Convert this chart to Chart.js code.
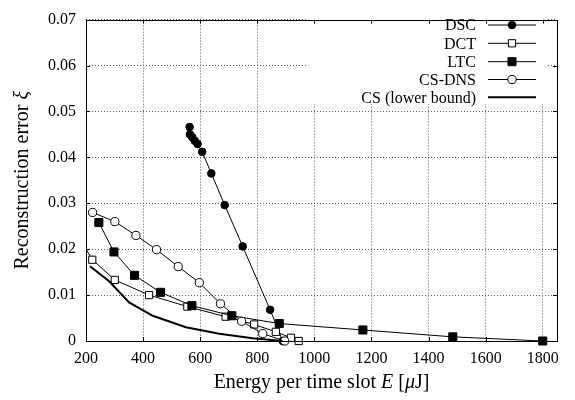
<!DOCTYPE html>
<html>
<head>
<meta charset="utf-8">
<script src="https://cdn.jsdelivr.net/npm/chart.js@4/dist/chart.umd.min.js"></script>
<style>
  html, body { margin: 0; padding: 0; background: #fff; }
  #wrap { width: 575px; height: 400px; }
</style>
</head>
<body>
<div id="wrap"><canvas id="chart" width="575" height="400"></canvas></div>
<script>
// --- datos ---
const names = ['DSC', 'DCT', 'LTC', 'CS-DNS', 'CS (lower bound)'];

const dscE  = [563, 564, 572, 581, 591, 607, 639, 686, 749, 845, 889];
const dscXi = [0.0466, 0.0450, 0.0444, 0.0436, 0.0429, 0.0412, 0.0365, 0.0296, 0.0206, 0.0068, 0.0];

const dctE  = [185, 222, 301, 421, 555, 689, 789, 865, 918, 945];
const dctXi = [0.0216, 0.0177, 0.0133, 0.0100, 0.0075, 0.0053, 0.0036, 0.0020, 0.0007, 0.0];

const ltcE  = [245, 298, 370, 461, 571, 711, 877, 1170, 1485, 1800];
const ltcXi = [0.0258, 0.0194, 0.0143, 0.0106, 0.0077, 0.0055, 0.0038, 0.0024, 0.0009, 0.0];

const dnsE  = [223, 301, 375, 447, 523, 597, 671, 745, 819, 896];
const dnsXi = [0.0280, 0.0260, 0.0230, 0.0199, 0.0162, 0.0127, 0.0081, 0.0043, 0.0016, 0.0];

const csE   = [214, 281, 351, 434, 550, 667, 784, 889];
const csXi  = [0.0163, 0.0130, 0.0084, 0.0055, 0.0030, 0.0016, 0.0006, 0.0];

const xTicks = [200, 400, 600, 800, 1000, 1200, 1400, 1600, 1800];
const yTicks = [0, 0.01, 0.02, 0.03, 0.04, 0.05, 0.06, 0.07];

const FONT = '"Liberation Serif", "DejaVu Serif", serif';
Chart.defaults.font.family = FONT;
Chart.defaults.color = '#000';

function pts(xs, ys) {
    return xs.map((x, i) => ({ x: x, y: ys[i] }));
}

function serie(label, data, style) {
    return Object.assign({
        label: label,
        data: data,
        borderColor: '#000',
        borderWidth: 1,
        tension: 0,
        pointBorderColor: '#000',
        pointBorderWidth: 1,
        pointHoverRadius: 0,
        clip: { left: 0, top: 6, right: 8, bottom: 8 }
    }, style);
}

// leyenda a la derecha, texto alineado a la derecha (estilo gnuplot)
const legendPlugin = {
    id: 'gpLegend',
    afterDatasetsDraw(chart) {
        const ctx = chart.ctx;
        ctx.save();
        ctx.fillStyle = '#fff';
        ctx.fillRect(306, 13, 241, 91);
        const rows = [25, 43.3, 61.7, 79.5, 97.3];
        ctx.font = '16px ' + FONT;
        ctx.textAlign = 'right';
        ctx.textBaseline = 'middle';
        chart.data.datasets.forEach((ds, i) => {
            const y = rows[i];
            ctx.fillStyle = '#000';
            ctx.fillText(ds.label, 476, y + 1);
            ctx.strokeStyle = '#000';
            ctx.lineWidth = ds.borderWidth;
            ctx.beginPath();
            ctx.moveTo(488, y);
            ctx.lineTo(536, y);
            ctx.stroke();
            if (ds.pointRadius > 0) {
                ctx.fillStyle = ds.pointBackgroundColor;
                ctx.lineWidth = 1;
                Chart.helpers.drawPoint(ctx, {
                    pointStyle: ds.pointStyle, radius: ds.pointRadius,
                    rotation: 0, borderWidth: 1
                }, 512, y);
            }
        });
        ctx.restore();
    }
};

// marco, marcas hacia dentro y títulos de ejes con cursiva
function drawRuns(ctx, runs, size) {
    let total = 0;
    runs.forEach(r => {
        ctx.font = (r[1] ? 'italic ' : '') + size + 'px ' + FONT;
        total += ctx.measureText(r[0]).width;
    });
    let x = -total / 2;
    runs.forEach(r => {
        ctx.font = (r[1] ? 'italic ' : '') + size + 'px ' + FONT;
        ctx.fillText(r[0], x, 0);
        x += ctx.measureText(r[0]).width;
    });
}

const framePlugin = {
    id: 'gpFrame',
    afterDraw(chart) {
        const ctx = chart.ctx;
        const a = chart.chartArea;
        const sx = chart.scales.x, sy = chart.scales.y;
        const t = 4;
        ctx.save();
        ctx.strokeStyle = '#000';
        ctx.lineWidth = 1;
        ctx.beginPath();
        xTicks.forEach(v => {
            const px = Math.round(sx.getPixelForValue(v)) + 0.5;
            ctx.moveTo(px, a.bottom); ctx.lineTo(px, a.bottom - t);
            ctx.moveTo(px, a.top); ctx.lineTo(px, a.top + t);
        });
        yTicks.forEach(v => {
            const py = Math.round(sy.getPixelForValue(v)) + 0.5;
            ctx.moveTo(a.left, py); ctx.lineTo(a.left + t, py);
            ctx.moveTo(a.right, py); ctx.lineTo(a.right - t, py);
        });
        ctx.stroke();
        ctx.strokeRect(Math.round(a.left) + 0.5, Math.round(a.top) + 0.5,
            Math.round(a.right - a.left), Math.round(a.bottom - a.top));

        ctx.fillStyle = '#000';
        ctx.textAlign = 'left';
        ctx.textBaseline = 'middle';
        ctx.translate((a.left + a.right) / 2, 383);
        drawRuns(ctx, [['Energy per time slot ', false], ['E', true], [' [', false], ['μ', true], ['J]', false]], 20);
        ctx.setTransform(1, 0, 0, 1, 0, 0);
        ctx.translate(23, (a.top + a.bottom) / 2);
        ctx.rotate(-Math.PI / 2);
        drawRuns(ctx, [['Reconstruction error ', false], ['ξ', true]], 20);
        ctx.restore();
    }
};

new Chart(document.getElementById('chart'), {
    type: 'line',
    data: {
        datasets: [
            serie(names[0], pts(dscE, dscXi), { order: 5, pointStyle: 'circle', pointRadius: 3.8, pointBackgroundColor: '#000' }),
            serie(names[1], pts(dctE, dctXi), { order: 4, pointStyle: 'rect', pointRadius: 5.1, pointBackgroundColor: '#fff' }),
            serie(names[2], pts(ltcE, ltcXi), { order: 3, pointStyle: 'rect', pointRadius: 5.7, pointBackgroundColor: '#000' }),
            serie(names[3], pts(dnsE, dnsXi), { order: 2, pointStyle: 'circle', pointRadius: 4.1, pointBackgroundColor: '#fff' }),
            serie(names[4], pts(csE, csXi), { order: 1, pointRadius: 0, borderWidth: 2 })
        ]
    },
    options: {
        responsive: false,
        animation: false,
        events: [],
        layout: { padding: { top: 12, right: 18, left: 0, bottom: 0 } },
        plugins: { legend: { display: false }, tooltip: { enabled: false } },
        scales: {
            x: {
                type: 'linear',
                min: 200, max: 1850,
                afterBuildTicks: s => { s.ticks = xTicks.map(v => ({ value: v })); },
                afterFit: s => { s.height = 59; },
                grid: { color: '#555', lineWidth: 1, drawTicks: false },
                border: { display: false, dash: [1, 2] },
                ticks: { padding: 8, font: { size: 16 }, maxRotation: 0, callback: v => String(v) }
            },
            y: {
                type: 'linear',
                min: 0, max: 0.07,
                afterBuildTicks: s => { s.ticks = yTicks.map(v => ({ value: v })); },
                afterFit: s => { s.width = 86; },
                grid: { color: '#555', lineWidth: 1, drawTicks: false },
                border: { display: false, dash: [1, 2] },
                ticks: { padding: 10, font: { size: 16 }, callback: v => v === 0 ? '0' : v.toFixed(2) }
            }
        }
    },
    plugins: [legendPlugin, framePlugin]
});
</script>
</body>
</html>
